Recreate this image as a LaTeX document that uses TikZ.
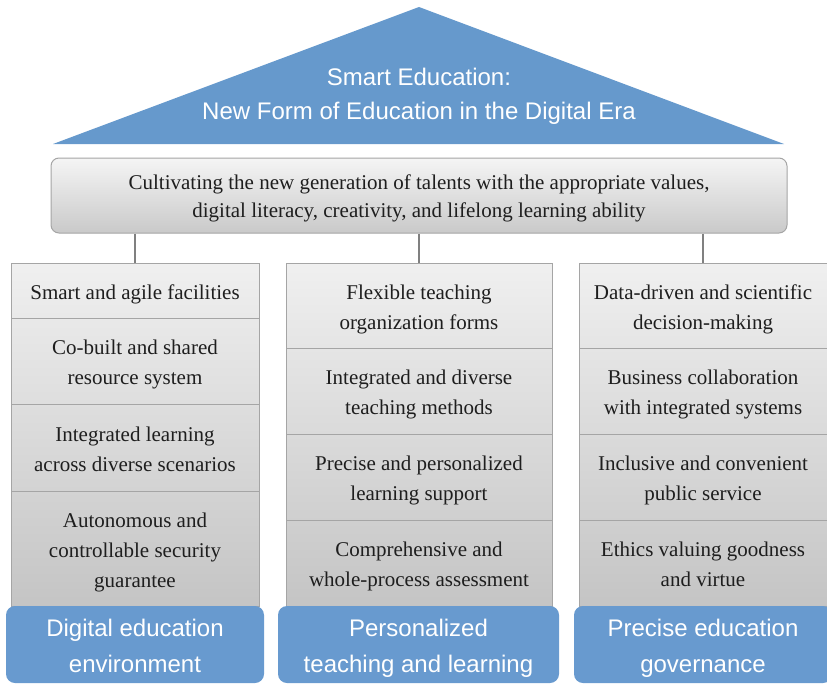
\documentclass[tikz,border=0pt]{standalone}
\usepackage{fontspec}
\setmainfont{Liberation Serif}
\setsansfont{Liberation Sans}
\usetikzlibrary{positioning}
\definecolor{roofblue}{RGB}{102,153,204}
\definecolor{tabblue}{RGB}{104,154,207}
\definecolor{cellline}{RGB}{165,165,165}
\definecolor{celltext}{RGB}{30,30,30}
\newcommand{\lowstrut}{\rule[\dimexpr-0.3\baselineskip+2.5pt\relax]{0pt}{\baselineskip}}
\newcommand{\linebrk}{\lowstrut\\}

\begin{document}
\begin{tikzpicture}[x=1pt,y=-1pt,
  cell/.style={draw=cellline, line width=1pt, outer sep=0pt, inner sep=0pt, align=center,
    text=celltext, font=\fontsize{21}{30}\selectfont},
  tab/.style={fill=tabblue, rounded corners=9pt, outer sep=0pt, inner sep=0pt, align=center,
    text=white, font=\sffamily\fontsize{24}{36}\selectfont},
  banner/.style={draw=cellline, line width=1pt, rounded corners=8pt, top color=black!4,
    bottom color=black!21, inner sep=0pt, align=center, text=celltext,
    font=\fontsize{21}{28}\selectfont},
  link/.style={draw=black!50, line width=1.3pt}]
\useasboundingbox (0,0) rectangle (827,685);

% roof
\fill [roofblue] (53,144) -- (419,7) -- (784,144) -- cycle;
\node [text=white, align=center, font=\sffamily\fontsize{24}{34}\selectfont] (roof) at (419,96)
  {Smart Education:\\New Form of Education in the Digital Era};

\node [banner, minimum width=736pt, minimum height=75pt] (goal) at (419,195.5)
  {Cultivating the new generation of talents with the appropriate values,\linebrk
   digital literacy, creativity, and lifelong learning ability\lowstrut};

% column backgrounds
\shade [top color=black!6, bottom color=black!23] (11,263) rectangle (259,606);
\shade [top color=black!6, bottom color=black!23] (286,263) rectangle (552,606);
\shade [top color=black!6, bottom color=black!23] (579,263) rectangle (827,606);

% environment
\node [cell, minimum width=248pt, minimum height=55pt] (env1) at (135,290.5) {Smart and agile facilities\lowstrut};
\node [cell, minimum width=248pt, minimum height=86pt, below=0pt of env1] (env2) {Co-built and shared\linebrk resource system\lowstrut};
\node [cell, minimum width=248pt, minimum height=87pt, below=0pt of env2] (env3) {Integrated learning\linebrk across diverse scenarios\lowstrut};
\node [cell, minimum width=248pt, minimum height=115pt, below=0pt of env3] (env4) {Autonomous and\linebrk controllable security\linebrk guarantee\lowstrut};

% teaching and learning
\node [cell, minimum width=266pt, minimum height=85pt] (tl1) at (419,305.5) {Flexible teaching\linebrk organization forms\lowstrut};
\node [cell, minimum width=266pt, minimum height=86pt, below=0pt of tl1] (tl2) {Integrated and diverse\linebrk teaching methods\lowstrut};
\node [cell, minimum width=266pt, minimum height=86pt, below=0pt of tl2] (tl3) {Precise and personalized\linebrk learning support\lowstrut};
\node [cell, minimum width=266pt, minimum height=86pt, below=0pt of tl3] (tl4) {Comprehensive and\linebrk whole-process assessment\lowstrut};

% governance
\node [cell, minimum width=248pt, minimum height=85pt] (gov1) at (703,305.5) {Data-driven and scientific\linebrk decision-making\lowstrut};
\node [cell, minimum width=248pt, minimum height=86pt, below=0pt of gov1] (gov2) {Business collaboration\linebrk with integrated systems\lowstrut};
\node [cell, minimum width=248pt, minimum height=86pt, below=0pt of gov2] (gov3) {Inclusive and convenient\linebrk public service\lowstrut};
\node [cell, minimum width=248pt, minimum height=86pt, below=0pt of gov3] (gov4) {Ethics valuing goodness\linebrk and virtue\lowstrut};

\node [tab, minimum width=258pt, minimum height=77pt] (envtab) at (135,644.5) {Digital education\linebrk environment\lowstrut};
\node [tab, minimum width=281pt, minimum height=77pt] (tltab) at (418.5,644.5) {Personalized\linebrk teaching and learning\lowstrut};
\node [tab, minimum width=258pt, minimum height=77pt] (govtab) at (703,644.5) {Precise education\linebrk governance\lowstrut};

\draw [link] (goal.south -| env1.north) -- (env1.north);
\draw [link] (goal.south -| tl1.north) -- (tl1.north);
\draw [link] (goal.south -| gov1.north) -- (gov1.north);
\end{tikzpicture}
\end{document}
